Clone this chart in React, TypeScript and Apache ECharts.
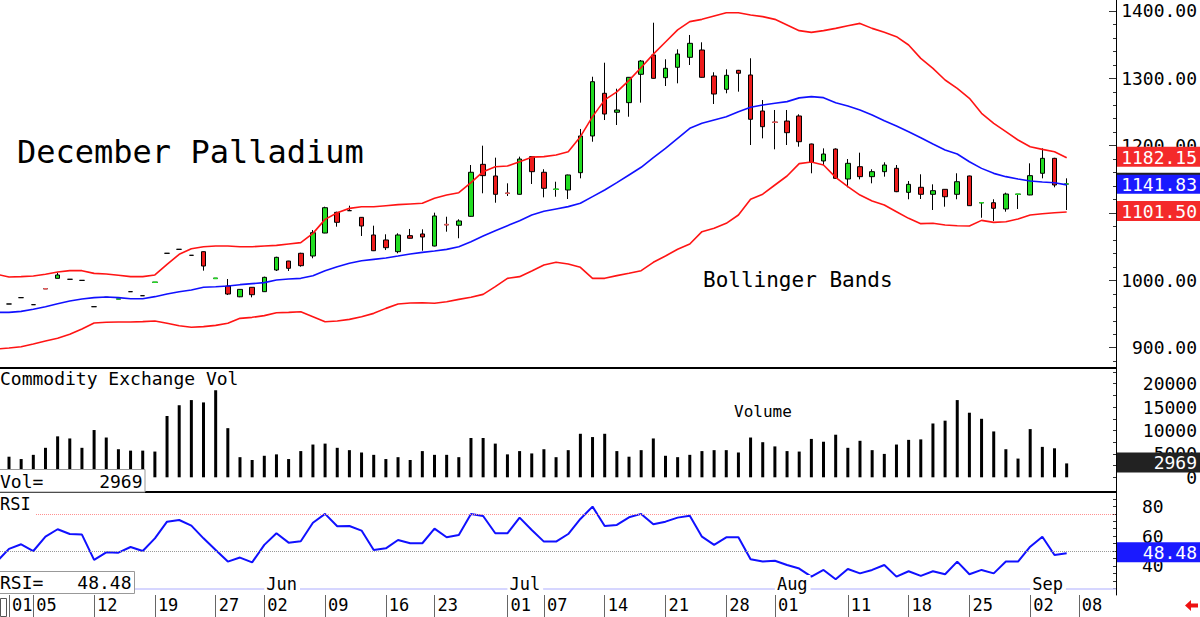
import React, { useEffect, useRef } from "react";
import * as echarts from "echarts";

// ---------------- DATA ----------------
// Sessions: the first entry (2025-04-30) is the prior session, used only by the band / RSI lines.
const sessions = [
  "2025-04-30",
  "2025-05-01", "2025-05-02", "2025-05-05", "2025-05-06", "2025-05-07", "2025-05-08", "2025-05-09",
  "2025-05-12", "2025-05-13", "2025-05-14", "2025-05-15", "2025-05-16", "2025-05-19", "2025-05-20",
  "2025-05-21", "2025-05-22", "2025-05-23", "2025-05-27", "2025-05-28", "2025-05-29", "2025-05-30",
  "2025-06-02", "2025-06-03", "2025-06-04", "2025-06-05", "2025-06-06", "2025-06-09", "2025-06-10",
  "2025-06-11", "2025-06-12", "2025-06-13", "2025-06-16", "2025-06-17", "2025-06-18", "2025-06-20",
  "2025-06-23", "2025-06-24", "2025-06-25", "2025-06-26", "2025-06-27", "2025-06-30",
  "2025-07-01", "2025-07-02", "2025-07-03", "2025-07-07", "2025-07-08", "2025-07-09", "2025-07-10",
  "2025-07-11", "2025-07-14", "2025-07-15", "2025-07-16", "2025-07-17", "2025-07-18", "2025-07-21",
  "2025-07-22", "2025-07-23", "2025-07-24", "2025-07-25", "2025-07-28", "2025-07-29", "2025-07-30",
  "2025-07-31",
  "2025-08-01", "2025-08-04", "2025-08-05", "2025-08-06", "2025-08-07", "2025-08-08", "2025-08-11",
  "2025-08-12", "2025-08-13", "2025-08-14", "2025-08-15", "2025-08-18", "2025-08-19", "2025-08-20",
  "2025-08-21", "2025-08-22", "2025-08-25", "2025-08-26", "2025-08-27", "2025-08-28", "2025-08-29",
  "2025-09-02", "2025-09-03", "2025-09-04", "2025-09-05",
];
const futureSessions = ["2025-09-08", "2025-09-09", "2025-09-10", "2025-09-11"];

// Candles: 2025-05-01 .. 2025-09-05 (88 sessions)
const openPx = [
  964.9, 974.3, 963.9, 987.6, 1003, 1001.6, 1000, 960.9, 974.8, 972.3,
  983.2, 977.2, 997.1, 1040.2, 1046.1, 1037.2, 1042.6, 1003, 991.6, 975.6,
  989.7, 983.2, 1015.4, 1028.7, 1040.2, 1036.2, 1070.3, 1101, 1103.5, 1093.6,
  1067.4, 1060, 1042.6, 1066.4, 1068.9, 1051, 1082.7, 1081.8, 1095.1, 1172.3,
  1155, 1129.3, 1127.8, 1183.7, 1160.5, 1135.2, 1134.2, 1159.9, 1214.4, 1277.8,
  1249.6, 1263.9, 1306, 1334.7, 1301, 1316.4, 1331.2, 1342.1, 1303.5, 1283.7,
  1311.9, 1305, 1251.5, 1234.7, 1236.6, 1244.1, 1202.5, 1177.3, 1195, 1150.5,
  1168.8, 1154, 1161.4, 1166.4, 1130.7, 1138.2, 1127.8, 1135.2, 1127.8, 1155,
  1115.3, 1115.3, 1106, 1127.8, 1126.8, 1159, 1181.2, 1143.1,
];
const closePx = [
  964.9, 974.3, 963.9, 987.6, 1008, 1001.6, 1000, 960.9, 974.8, 972.3,
  983.2, 977.2, 997.1, 1040.2, 1046.1, 1037.2, 1021.3, 1003, 979.7, 986.6,
  978.7, 1004.5, 1034.2, 1017.9, 1021.8, 1070.8, 1107.9, 1086.2, 1103.5, 1080.7,
  1044, 1048.5, 1067.4, 1062.5, 1064.4, 1095.6, 1082.7, 1088.2, 1160.5, 1155.5,
  1127.8, 1129.3, 1180.2, 1161.4, 1136.7, 1135.2, 1156.5, 1214.4, 1295, 1247,
  1253, 1301.5, 1325.7, 1300, 1314.9, 1336.1, 1352, 1301.5, 1276.7, 1304.5,
  1307.5, 1239.2, 1228.2, 1234.7, 1219.3, 1205.9, 1175.3, 1187.6, 1151.5, 1173.8,
  1154, 1161.4, 1171.3, 1131.7, 1142.6, 1127.8, 1133.2, 1124.2, 1146.5, 1110.9,
  1115.3, 1107, 1128.2, 1127.8, 1155.5, 1181.2, 1141.6, 1143.1,
];
const lowPx = [
  964.9, 974.3, 963.9, 987.6, 1003, 1001.6, 1000, 960.9, 974.8, 972.3,
  983.2, 977.2, 997.1, 1040.2, 1046.1, 1037.2, 1014.4, 1003, 978.2, 975,
  974.8, 983, 1013.9, 1013.9, 1020.3, 1032.8, 1070, 1079.7, 1103.5, 1065.9,
  1043.5, 1045, 1040.2, 1062, 1044, 1050.5, 1072.3, 1062.5, 1094.5, 1129.3,
  1115.3, 1125.3, 1127.5, 1143.1, 1123.3, 1124.2, 1120.8, 1151.5, 1205.9, 1238.1,
  1230.7, 1243, 1263.9, 1299.5, 1288.6, 1292.6, 1319.8, 1301, 1261.9, 1277.8,
  1280.2, 1201, 1210.9, 1194.6, 1201, 1198.5, 1159, 1171.3, 1150.5, 1138.2,
  1150, 1144.1, 1154, 1131, 1120.4, 1120.8, 1104.5, 1109.4, 1120.4, 1110.5,
  1093, 1088.2, 1102, 1106, 1126.5, 1151.5, 1138.2, 1104.5,
];
const highPx = [
  964.9, 974.3, 963.9, 987.6, 1011.4, 1001.6, 1000, 960.9, 974.8, 972.3,
  983.2, 977.2, 997.1, 1040.2, 1046.1, 1037.2, 1043, 1003, 1002, 987,
  990, 1005.5, 1035.1, 1029, 1041, 1074.8, 1109.4, 1102, 1110.9, 1094,
  1081.2, 1068.4, 1069.9, 1076.3, 1075.8, 1100.5, 1094.5, 1090.7, 1171.3, 1200,
  1182.2, 1144.1, 1183.7, 1184, 1165, 1146.5, 1157, 1224.8, 1302.4, 1323.2,
  1284.6, 1302, 1327.2, 1382.6, 1328.3, 1343.1, 1364.4, 1353.5, 1309, 1313.4,
  1312.5, 1329.8, 1267.8, 1253, 1253, 1246.6, 1203, 1196, 1196, 1180.2,
  1189.6, 1165, 1175.3, 1171.3, 1147.5, 1157.5, 1142.6, 1135.5, 1159, 1155.5,
  1115.3, 1120.4, 1130.2, 1127.8, 1173.8, 1196, 1182, 1151.5,
];
const volume = [
  4400, 3900, 4800, 6300, 8750, 8300, 6300, 10100, 8500, 6000,
  5700, 5700, 5500, 13100, 15400, 16500, 16000, 18600, 10500, 4300,
  3700, 4600, 4900, 3900, 5600, 7000, 7200, 6300, 5800, 5300,
  4800, 3900, 4300, 3700, 5600, 4800, 4800, 4300, 8400, 8400,
  7200, 4900, 5600, 5100, 6000, 4300, 5800, 9300, 8600, 9300,
  5600, 4400, 5800, 8300, 4600, 4300, 4800, 5600, 5800, 5800,
  5300, 8500, 7500, 6600, 5600, 5500, 8200, 7600, 9100, 6300,
  7800, 5800, 5000, 7000, 8000, 8100, 11500, 12100, 16500, 13800,
  12500, 9800, 6000, 4000, 10300, 6500, 6200, 2969,
];
// Bollinger bands and RSI: 2025-04-30 .. 2025-09-05 (89 values)
const upperBand = [
  1009, 1005, 1005.5, 1006.5, 1009, 1012.4, 1014.4, 1014.4, 1010.4, 1009.5,
  1007.5, 1005.5, 1005.5, 1008, 1023.8, 1038.7, 1047, 1050, 1051, 1051,
  1050, 1050, 1051, 1052, 1054, 1056, 1069.8, 1090.6, 1100.5, 1106.9,
  1109.4, 1109.4, 1110.9, 1112.4, 1113.4, 1114.4, 1121.8, 1126.7, 1130.2, 1145,
  1161.4, 1168.8, 1169.8, 1176.2, 1183, 1183.7, 1186.2, 1191.1, 1213.4, 1243.1,
  1268, 1280, 1297, 1316, 1336, 1354, 1372, 1384.2, 1387.6, 1392.6,
  1397.5, 1397.5, 1394.1, 1391.6, 1387.6, 1379.2, 1370.8, 1368.3, 1370.8, 1374.2,
  1378.2, 1381.6, 1374.2, 1368.3, 1361.9, 1349.5, 1329.7, 1314.8, 1297.5, 1285.1,
  1270.3, 1248, 1233.2, 1220.8, 1208.4, 1198.5, 1194.5, 1191.1, 1182.15,
];
const middleBand = [
  952.5, 952.5, 954, 957, 960.9, 965.4, 969.4, 972.3, 974.3, 975.3,
  974.3, 972.8, 972.8, 975.8, 979.7, 983.2, 985.7, 989.7, 990.6, 991.6,
  993.6, 995.1, 996.6, 1000.5, 1002, 1003, 1006.9, 1014.4, 1020.3, 1025.3,
  1029.2, 1031.2, 1033.2, 1036.1, 1039.1, 1041.6, 1043.6, 1046, 1050, 1057.4,
  1065.8, 1073.8, 1081.2, 1088.6, 1097, 1102.5, 1106, 1109.5, 1114.4, 1124.3,
  1134.2, 1145.1, 1156.5, 1167.9, 1182.2, 1196.1, 1211, 1225.8, 1233.2, 1238.2,
  1243.1, 1250.5, 1257, 1260.4, 1262.9, 1265.4, 1271, 1272.8, 1271.3, 1263.8,
  1258.9, 1253, 1245.5, 1237.1, 1229.2, 1220.8, 1211.9, 1202.5, 1193.6, 1187.6,
  1176.2, 1166.3, 1158.9, 1154, 1150.5, 1147.5, 1146, 1145, 1141.83,
];
const lowerBand = [
  898, 899.6, 901.5, 905.5, 910, 913.9, 919.9, 927.8, 936.7, 937.7,
  938.2, 938.2, 938.7, 939.7, 936.2, 932.7, 930.3, 931.3, 933.2, 936.2,
  943.6, 945.1, 947.6, 952, 952.5, 953.5, 946.1, 938.6, 939.6, 942.1,
  946.1, 951, 958.4, 964.9, 966.3, 966.8, 965.9, 968.3, 971.8, 974.8,
  979.2, 990.6, 1003, 1005.5, 1014, 1022.8, 1026.8, 1024.3, 1019.4, 1003,
  1003, 1007, 1010.5, 1014.4, 1026.8, 1036.2, 1046.1, 1054, 1072.3, 1077.3,
  1084.7, 1097.1, 1120.3, 1128, 1141.6, 1155, 1173.3, 1175.7, 1171.3, 1153,
  1139.1, 1126.7, 1117.8, 1111.9, 1102, 1092.1, 1084.2, 1084.7, 1082.2, 1081.2,
  1080.7, 1089.1, 1086.1, 1087.1, 1091.1, 1097, 1099, 1100.5, 1101.5,
];
const rsi = [
  42.9,
  51.4, 54.5, 50.0, 59.7, 64.6, 61.4, 61.0, 44.0, 49.1, 48.9,
  52.7, 50.0, 58.5, 69.7, 70.8, 67.0, 58.5, 50.7, 42.9, 45.6,
  42.4, 54.1, 61.9, 55.6, 56.5, 69.0, 74.9, 66.6, 66.8, 63.7,
  50.7, 51.8, 57.4, 55.2, 55.2, 65.0, 59.2, 60.8, 74.9, 73.5,
  61.9, 61.9, 72.4, 64.1, 56.3, 56.3, 61.4, 71.5, 79.8, 66.8,
  67.5, 72.6, 74.9, 67.9, 69.7, 72.4, 73.7, 59.6, 54.1, 59.2,
  59.2, 44.4, 42.9, 43.5, 40.6, 38.2, 32.8, 37.3, 31.0, 37.9,
  35.0, 37.3, 40.6, 32.8, 36.4, 33.3, 36.4, 34.4, 42.9, 34.4,
  37.3, 35.0, 42.9, 42.9, 52.9, 59.6, 47.3, 48.48,
];
// Single-print sessions drawn as coloured dashes
const flatUpSessions = ["2025-05-14", "2025-05-19", "2025-05-27", "2025-07-08", "2025-08-26", "2025-08-29", "2025-09-05"];
const flatDownSessions = ["2025-05-06", "2025-06-24", "2025-07-01", "2025-08-01"];

const priceTicks = [900, 1000, 1100, 1200, 1300, 1400];
const volumeTicks = [0, 5000, 10000, 15000, 20000];
const rsiTicks = [40, 60, 80];
const rsiLevels = [75, 50, 25];
const dayTicks = [
  "2025-05-01", "2025-05-05", "2025-05-12", "2025-05-19", "2025-05-27", "2025-06-02", "2025-06-09",
  "2025-06-16", "2025-06-23", "2025-07-01", "2025-07-07", "2025-07-14", "2025-07-21", "2025-07-28",
  "2025-08-01", "2025-08-11", "2025-08-18", "2025-08-25", "2025-09-02", "2025-09-08",
];
const monthTicks: [string, string][] = [
  ["Jun", "2025-06-02"], ["Jul", "2025-07-01"], ["Aug", "2025-08-01"], ["Sep", "2025-09-02"],
];
const titleText = "December Palladium";
const bandsText = "Bollinger Bands";
const volPanelText = "Commodity Exchange Vol";
const volumeText = "Volume";
const rsiText = "RSI";

// ---------------- LAYOUT / STYLE ----------------
const FONT = '"DejaVu Sans Mono", monospace';
const SLOT = 12.157;
const PLOT_W = 1116;
const XMIN = 1 - 9 / SLOT;
const XMAX = XMIN + PLOT_W / SLOT;
const PRICE_MIN = 869.86, PRICE_MAX = 1416.33;
const VOL_MIN = -3141, VOL_MAX = 23355;
const RSI_MIN = 20.47, RSI_MAX = 89.6;
const GREEN = "#22dd22";
const RED = "#ee1c1c";
const BAND_RED = "#ff1414";
const BLUE = "#1010ff";

const allDates = [...sessions, ...futureSessions];
const at = (d: string) => allDates.indexOf(d);

function range(a: number, b: number, s: number) {
  const r: number[] = [];
  for (let v = a; v <= b + 1e-9; v += s) r.push(v);
  return r;
}

function buildOption(): any {
  const candleData = openPx.map((o, i) => [i + 1, o, closePx[i], lowPx[i], highPx[i]]);
  const flat = (list: string[]) =>
    list.map((d) => {
      const k = at(d);
      const c = closePx[k - 1];
      return [k, c, c, c, c];
    });
  const line = (arr: number[]) => arr.map((v, k) => [k, v]);
  const dayIdx = dayTicks.map(at);
  const monthIdx = monthTicks.map((m) => at(m[1]));
  const monthName: Record<number, string> = {};
  monthTicks.forEach((m) => (monthName[at(m[1])] = m[0]));

  const hiddenX = (gridIndex: number) => ({
    type: "value", gridIndex, min: XMIN, max: XMAX, show: false, splitLine: { show: false },
  });
  const flatStyle = (c: string) => ({
    color: c, color0: c, borderColor: c, borderColor0: c, borderColorDoji: c, borderWidth: 1.6,
  });

  return {
    animation: false,
    backgroundColor: "#fff",
    textStyle: { fontFamily: FONT },
    grid: [
      { left: 0, top: 0, width: PLOT_W, height: 368, show: false },
      { left: 0, top: 368, width: PLOT_W, height: 124, show: false },
      { left: 0, top: 492, width: PLOT_W, height: 103, show: false },
    ],
    xAxis: [
      hiddenX(0),
      hiddenX(1),
      {
        type: "value", gridIndex: 2, min: XMIN, max: XMAX, position: "bottom",
        axisLine: { show: false, onZero: false },
        splitLine: { show: false },
        axisTick: { show: true, inside: false, length: 22, customValues: dayIdx, lineStyle: { color: "#666", width: 1 } },
        axisLabel: {
          show: true, customValues: dayIdx, align: "left", margin: 1, padding: [0, 0, 0, 3],
          fontSize: 17, fontFamily: FONT, color: "#000",
          formatter: (v: number) => allDates[Math.round(v)].slice(8),
        },
      },
      {
        type: "value", gridIndex: 2, min: XMIN, max: XMAX, position: "bottom", z: 50,
        axisLine: { show: false, onZero: false },
        splitLine: { show: false },
        axisTick: { show: false },
        axisLabel: {
          show: true, inside: true, customValues: monthIdx, align: "left", margin: 3,
          padding: [0, 3, 0, 2], backgroundColor: "#fff", fontSize: 17, fontFamily: FONT, color: "#000",
          formatter: (v: number) => monthName[Math.round(v)] || "",
        },
      },
    ],
    yAxis: [
      {
        type: "value", gridIndex: 0, position: "right", min: PRICE_MIN, max: PRICE_MAX,
        axisLine: { show: true, onZero: false, lineStyle: { color: "#000", width: 1 } },
        axisTick: { show: true, inside: true, length: 3, customValues: range(880, 1400, 20), lineStyle: { color: "#333" } },
        axisLabel: {
          show: true, customValues: priceTicks, align: "right", margin: 81, fontSize: 18, fontFamily: FONT,
          color: "#000", formatter: (v: number) => v.toFixed(2),
        },
        splitLine: { show: false },
      },
      {
        type: "value", gridIndex: 0, position: "right", min: PRICE_MIN, max: PRICE_MAX,
        axisLine: { show: false, onZero: false },
        axisTick: { show: true, inside: true, length: 7, customValues: priceTicks, lineStyle: { color: "#333" } },
        axisLabel: { show: false },
        splitLine: { show: false },
      },
      {
        type: "value", gridIndex: 1, position: "right", min: VOL_MIN, max: VOL_MAX,
        axisLine: { show: true, onZero: false, lineStyle: { color: "#000", width: 1 } },
        axisTick: { show: true, inside: true, length: 3, customValues: range(0, 22500, 2500), lineStyle: { color: "#333" } },
        axisLabel: {
          show: true, customValues: volumeTicks, align: "right", margin: 81, fontSize: 18, fontFamily: FONT,
          color: "#000", formatter: (v: number) => String(v),
        },
        splitLine: { show: false },
      },
      {
        type: "value", gridIndex: 2, position: "right", min: RSI_MIN, max: RSI_MAX,
        axisLine: { show: true, onZero: false, lineStyle: { color: "#000", width: 1 } },
        axisTick: { show: true, inside: true, length: 3, customValues: range(25, 85, 5), lineStyle: { color: "#333" } },
        axisLabel: {
          show: true, customValues: rsiTicks, align: "left", margin: 26, fontSize: 18, fontFamily: FONT,
          color: "#000", formatter: (v: number) => String(v),
        },
        splitLine: { show: false },
      },
    ],
    series: [
      {
        type: "candlestick", name: "price", xAxisIndex: 0, yAxisIndex: 0, barWidth: 5,
        data: candleData,
        itemStyle: {
          color: GREEN, color0: RED, borderColor: "#000", borderColor0: "#000", borderColorDoji: "#000", borderWidth: 1,
        },
      },
      { type: "candlestick", name: "flatUp", xAxisIndex: 0, yAxisIndex: 0, barWidth: 5, data: flat(flatUpSessions), itemStyle: flatStyle(GREEN) },
      { type: "candlestick", name: "flatDown", xAxisIndex: 0, yAxisIndex: 0, barWidth: 5, data: flat(flatDownSessions), itemStyle: flatStyle("#f05a5a") },
      { type: "line", name: "upper", xAxisIndex: 0, yAxisIndex: 0, data: line(upperBand), showSymbol: false, lineStyle: { color: BAND_RED, width: 1.6 } },
      { type: "line", name: "middle", xAxisIndex: 0, yAxisIndex: 0, data: line(middleBand), showSymbol: false, lineStyle: { color: BLUE, width: 1.6 } },
      { type: "line", name: "lower", xAxisIndex: 0, yAxisIndex: 0, data: line(lowerBand), showSymbol: false, lineStyle: { color: BAND_RED, width: 1.6 } },
      {
        type: "bar", name: "volume", xAxisIndex: 1, yAxisIndex: 2, barWidth: 3,
        data: volume.map((v, i) => [i + 1, v]), itemStyle: { color: "#000" },
      },
      {
        type: "line", name: "rsi", xAxisIndex: 2, yAxisIndex: 3, data: line(rsi), showSymbol: false,
        lineStyle: { color: BLUE, width: 2 },
        markLine: {
          silent: true, symbol: ["none", "none"], label: { show: false },
          data: [
            { yAxis: rsiLevels[0], lineStyle: { color: "#ff9090", type: "dotted", width: 1 } },
            { yAxis: rsiLevels[1], lineStyle: { color: "#999", type: "dotted", width: 1 } },
            { yAxis: rsiLevels[2], lineStyle: { color: "#c8c8ff", type: "solid", width: 1.5 } },
          ],
        },
      },
    ],
  };
}

function txt(text: string, x: number, y: number, size: number, extra: any = {}) {
  return {
    type: "text", x, y, z: 101,
    style: { text, fill: "#000", fontSize: size, fontFamily: FONT, align: "left", verticalAlign: "middle", ...extra },
  };
}

function buildGraphics(chart: any) {
  const py = (axis: number, v: number) => chart.convertToPixel({ yAxisIndex: axis }, v) as number;
  const last = (a: number[]) => a[a.length - 1];
  const boxes = [
    { v: last(upperBand), axis: 0, bg: "#f42a2a", label: last(upperBand).toFixed(2) },
    { v: last(middleBand), axis: 0, bg: "#1a1aff", label: last(middleBand).toFixed(2), topLine: true },
    { v: last(lowerBand), axis: 0, bg: "#f42a2a", label: last(lowerBand).toFixed(2) },
    { v: last(volume), axis: 2, bg: "#222", label: String(last(volume)) },
    { v: last(rsi), axis: 3, bg: "#1a1aff", label: last(rsi).toFixed(2) },
  ];
  const g: any[] = [];
  boxes.forEach((b) => {
    const y = py(b.axis, b.v) - 1;
    g.push({ type: "rect", z: 100, shape: { x: 1117, y: y - 10, width: 83, height: 20 }, style: { fill: b.bg } });
    if (b.topLine) g.push({ type: "line", z: 100, shape: { x1: 1117, y1: y - 10, x2: 1200, y2: y - 10 }, style: { stroke: "#222", lineWidth: 2 } });
    g.push(txt(b.label, 1197, y + 0.5, 18, { fill: "#fff", align: "right" }));
  });
  // panel separators
  g.push({ type: "line", z: 100, shape: { x1: 0, y1: 368, x2: PLOT_W, y2: 368 }, style: { stroke: "#000", lineWidth: 2 } });
  g.push({ type: "line", z: 100, shape: { x1: 0, y1: 492, x2: PLOT_W, y2: 492 }, style: { stroke: "#000", lineWidth: 2 } });
  // titles
  g.push(txt(titleText, 17, 152, 32));
  g.push(txt(bandsText, 703, 280, 21));
  g.push(txt(volPanelText, 0, 378.5, 18));
  g.push(txt(volumeText, 734, 411, 16));
  g.push({ type: "rect", z: 100, shape: { x: 0, y: 494, width: 35, height: 22 }, style: { fill: "#fff" } });
  g.push(txt(rsiText, 0, 504, 17));
  // readout boxes
  g.push({ type: "rect", z: 100, shape: { x: -1, y: 469.5, width: 146, height: 22.5 }, style: { fill: "#fff", stroke: "#999", lineWidth: 1 } });
  g.push(txt("Vol=", 0, 481, 18));
  g.push(txt(String(last(volume)), 142.5, 481, 18, { align: "right" }));
  g.push({ type: "rect", z: 100, shape: { x: -1, y: 571.5, width: 135.5, height: 22 }, style: { fill: "#fff", stroke: "#999", lineWidth: 1 } });
  g.push(txt("RSI=", 0, 582.5, 18));
  g.push(txt(last(rsi).toFixed(2), 131.5, 582.5, 18, { align: "right" }));
  // small box at bottom-left, red arrow at bottom-right
  g.push({ type: "rect", z: 100, shape: { x: 0.5, y: 598.5, width: 6, height: 18 }, style: { fill: "none", stroke: "#555", lineWidth: 1 } });
  g.push({
    type: "polygon", z: 100,
    shape: { points: [[1185, 605.5], [1191, 600], [1191, 603.5], [1198, 603.5], [1198, 607.5], [1191, 607.5], [1191, 611]] },
    style: { fill: "#ee1111" },
  });
  return g;
}

export default function App() {
  const ref = useRef<HTMLDivElement>(null);
  useEffect(() => {
    if (!ref.current) return;
    const chart = echarts.init(ref.current, undefined, { renderer: "svg" });
    chart.setOption(buildOption());
    chart.setOption({ graphic: buildGraphics(chart) });
    return () => chart.dispose();
  }, []);
  return (
    <div
      ref={ref}
      style={{ position: "fixed", left: 0, top: 0, width: 1200, height: 617, background: "#fff" }}
    />
  );
}
